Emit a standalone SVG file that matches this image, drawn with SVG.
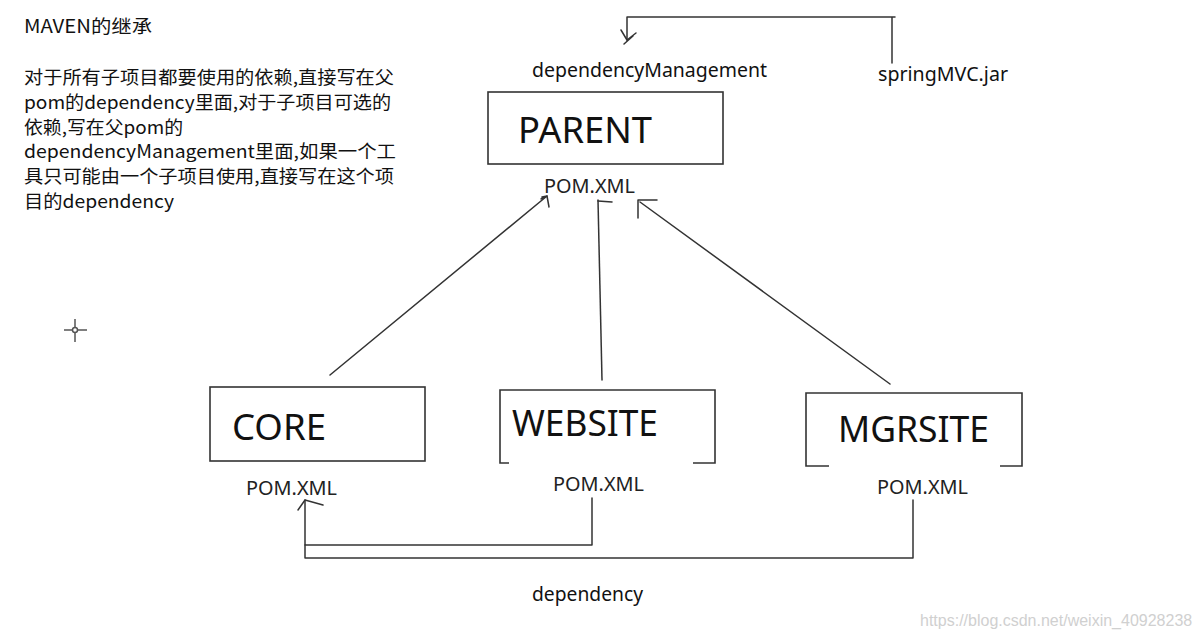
<svg xmlns="http://www.w3.org/2000/svg" width="1200" height="640" viewBox="0 0 1200 640">
<defs>
<style>
.t{font-family:"Noto Sans","Noto Sans CJK SC",sans-serif;fill:#111}
.cn{font-family:"Noto Sans CJK SC","Noto Sans",sans-serif;fill:#111;font-size:18px}
.box{fill:none;stroke:#333;stroke-width:1.6}
.ln{fill:none;stroke:#333;stroke-width:1.5;stroke-linecap:round;stroke-linejoin:round}
.big{font-size:36px}
.pom{font-size:19px;fill:#222}
</style>
</defs>
<rect width="1200" height="640" fill="#fff"/>
<g id="notes">
<text class="cn" x="24" y="33" font-size="18" textLength="128" lengthAdjust="spacingAndGlyphs">MAVEN的继承</text>
<text class="cn" x="24" y="84" textLength="370" lengthAdjust="spacingAndGlyphs">对于所有子项目都要使用的依赖,直接写在父</text>
<text class="cn" x="24" y="109" textLength="367" lengthAdjust="spacingAndGlyphs">pom的dependency里面,对于子项目可选的</text>
<text class="cn" x="24" y="134" textLength="159" lengthAdjust="spacingAndGlyphs">依赖,写在父pom的</text>
<text class="cn" x="24" y="158" textLength="372" lengthAdjust="spacingAndGlyphs">dependencyManagement里面,如果一个工</text>
<text class="cn" x="24" y="183" textLength="370" lengthAdjust="spacingAndGlyphs">具只可能由一个子项目使用,直接写在这个项</text>
<text class="cn" x="24" y="208" textLength="150" lengthAdjust="spacingAndGlyphs">目的dependency</text>
</g>
<g id="cursor" stroke="#555" stroke-width="1.5" fill="none">
<line x1="64" y1="330" x2="72" y2="330"/>
<line x1="78" y1="330" x2="87" y2="330"/>
<line x1="75" y1="319" x2="75" y2="327"/>
<line x1="75" y1="333" x2="75" y2="342"/>
<circle cx="75" cy="330" r="2.5"/>
</g>
<g id="parent">
<rect class="box" x="488" y="92" width="235" height="72"/>
<text class="t big" x="518" y="143" textLength="134" lengthAdjust="spacingAndGlyphs">PARENT</text>
<text class="t pom" x="544" y="193" textLength="91" lengthAdjust="spacingAndGlyphs">POM.XML</text>
</g>
<g id="core">
<rect class="box" x="210" y="387" width="215" height="74"/>
<text class="t big" x="232" y="440" textLength="94" lengthAdjust="spacingAndGlyphs">CORE</text>
<text class="t pom" x="246" y="495" textLength="91" lengthAdjust="spacingAndGlyphs">POM.XML</text>
</g>
<g id="website">
<path class="box" d="M509,463 H500 V390 H715 V463 H693"/>
<text class="t big" x="512" y="436" textLength="146" lengthAdjust="spacingAndGlyphs">WEBSITE</text>
<text class="t pom" x="553" y="491" textLength="91" lengthAdjust="spacingAndGlyphs">POM.XML</text>
</g>
<g id="mgrsite">
<path class="box" d="M829,466 H806 V393 H1022 V466 H1000"/>
<text class="t big" x="838" y="442" textLength="151" lengthAdjust="spacingAndGlyphs">MGRSITE</text>
<text class="t pom" x="877" y="494" textLength="91" lengthAdjust="spacingAndGlyphs">POM.XML</text>
</g>
<g id="labels">
<text class="t" x="532" y="77" font-size="19" textLength="235" lengthAdjust="spacingAndGlyphs">dependencyManagement</text>
<text class="t" x="878" y="81" font-size="19" textLength="130" lengthAdjust="spacingAndGlyphs">springMVC.jar</text>
<text class="t" x="532" y="601" font-size="19" textLength="111" lengthAdjust="spacingAndGlyphs">dependency</text>
<text x="920" y="626" font-family="Liberation Sans, sans-serif" font-size="16" fill="#d0d0d0">https://blog.csdn.net/weixin_40928238</text>
</g>
<g id="connectors">
<path class="ln" d="M892,63 V17 H895 M892,17 H627 V40"/>
<path class="ln" d="M621,30 L627,40 L636,33 M624,44 L633,36"/>
<path class="ln" d="M330,375 L547,196"/>
<path class="ln" d="M541,199 L547,196 L549,207 M547,196 L542,197"/>
<path class="ln" d="M602,380 L598,200"/>
<path class="ln" d="M598,201 L612,202"/>
<path class="ln" d="M890,384 L640,202"/>
<path class="ln" d="M638,200 L638,218 M638,200 L657,200"/>
<path class="ln" d="M592,498 V545 H305 V500"/>
<path class="ln" d="M913,500 V558 H305 V545"/>
<path class="ln" d="M305,500 L298,510 M305,500 L323,505"/>
</g>
</svg>
